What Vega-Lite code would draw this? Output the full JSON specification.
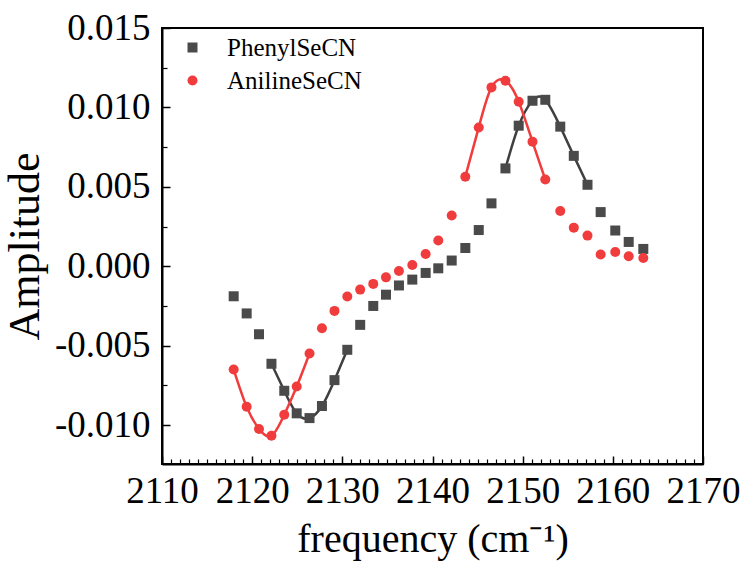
{
  "$schema": "https://vega.github.io/schema/vega-lite/v6.json",
  "autosize": {"type": "none"},
  "padding": {"left": 162, "top": 28, "right": 40, "bottom": 97},
  "width": 541,
  "height": 436,
  "background": "white",
  "config": {
    "view": {"stroke": "black", "strokeWidth": 2},
    "font": "Liberation Serif"
  },
  "data": {"values": [
    {"series": "PhenylSeCN", "freq": 2117.95, "amp": -0.00189, "seg": null},
    {"series": "PhenylSeCN", "freq": 2119.39, "amp": -0.00297, "seg": null},
    {"series": "PhenylSeCN", "freq": 2120.76, "amp": -0.00428, "seg": null},
    {"series": "PhenylSeCN", "freq": 2122.14, "amp": -0.00614, "seg": "dip"},
    {"series": "PhenylSeCN", "freq": 2123.56, "amp": -0.00784, "seg": "dip"},
    {"series": "PhenylSeCN", "freq": 2124.94, "amp": -0.00926, "seg": "dip"},
    {"series": "PhenylSeCN", "freq": 2126.36, "amp": -0.00956, "seg": "dip"},
    {"series": "PhenylSeCN", "freq": 2127.74, "amp": -0.00880, "seg": "dip"},
    {"series": "PhenylSeCN", "freq": 2129.13, "amp": -0.00717, "seg": "dip"},
    {"series": "PhenylSeCN", "freq": 2130.55, "amp": -0.00526, "seg": "dip"},
    {"series": "PhenylSeCN", "freq": 2131.98, "amp": -0.00369, "seg": null},
    {"series": "PhenylSeCN", "freq": 2133.43, "amp": -0.00250, "seg": null},
    {"series": "PhenylSeCN", "freq": 2134.84, "amp": -0.00179, "seg": null},
    {"series": "PhenylSeCN", "freq": 2136.28, "amp": -0.00121, "seg": null},
    {"series": "PhenylSeCN", "freq": 2137.76, "amp": -0.00084, "seg": null},
    {"series": "PhenylSeCN", "freq": 2139.24, "amp": -0.00042, "seg": null},
    {"series": "PhenylSeCN", "freq": 2140.64, "amp": -0.00013, "seg": null},
    {"series": "PhenylSeCN", "freq": 2142.13, "amp": 0.00036, "seg": null},
    {"series": "PhenylSeCN", "freq": 2143.64, "amp": 0.00115, "seg": null},
    {"series": "PhenylSeCN", "freq": 2145.13, "amp": 0.00228, "seg": null},
    {"series": "PhenylSeCN", "freq": 2146.54, "amp": 0.00396, "seg": null},
    {"series": "PhenylSeCN", "freq": 2148.09, "amp": 0.00616, "seg": "peak"},
    {"series": "PhenylSeCN", "freq": 2149.56, "amp": 0.00885, "seg": "peak"},
    {"series": "PhenylSeCN", "freq": 2151.09, "amp": 0.01042, "seg": "peak"},
    {"series": "PhenylSeCN", "freq": 2152.51, "amp": 0.01048, "seg": "peak"},
    {"series": "PhenylSeCN", "freq": 2154.17, "amp": 0.00879, "seg": "peak"},
    {"series": "PhenylSeCN", "freq": 2155.67, "amp": 0.00695, "seg": "peak"},
    {"series": "PhenylSeCN", "freq": 2157.19, "amp": 0.00513, "seg": "peak"},
    {"series": "PhenylSeCN", "freq": 2158.65, "amp": 0.00341, "seg": null},
    {"series": "PhenylSeCN", "freq": 2160.27, "amp": 0.00225, "seg": null},
    {"series": "PhenylSeCN", "freq": 2161.76, "amp": 0.00153, "seg": null},
    {"series": "PhenylSeCN", "freq": 2163.38, "amp": 0.00109, "seg": null},
    {"series": "AnilineSeCN", "freq": 2117.95, "amp": -0.00650, "seg": "dip"},
    {"series": "AnilineSeCN", "freq": 2119.39, "amp": -0.00885, "seg": "dip"},
    {"series": "AnilineSeCN", "freq": 2120.76, "amp": -0.01025, "seg": "dip"},
    {"series": "AnilineSeCN", "freq": 2122.14, "amp": -0.01067, "seg": "dip"},
    {"series": "AnilineSeCN", "freq": 2123.56, "amp": -0.00935, "seg": "dip"},
    {"series": "AnilineSeCN", "freq": 2124.94, "amp": -0.00757, "seg": "dip"},
    {"series": "AnilineSeCN", "freq": 2126.36, "amp": -0.00549, "seg": "dip"},
    {"series": "AnilineSeCN", "freq": 2127.74, "amp": -0.00390, "seg": null},
    {"series": "AnilineSeCN", "freq": 2129.13, "amp": -0.00281, "seg": null},
    {"series": "AnilineSeCN", "freq": 2130.55, "amp": -0.00191, "seg": null},
    {"series": "AnilineSeCN", "freq": 2131.98, "amp": -0.00147, "seg": null},
    {"series": "AnilineSeCN", "freq": 2133.43, "amp": -0.00111, "seg": null},
    {"series": "AnilineSeCN", "freq": 2134.84, "amp": -0.00070, "seg": null},
    {"series": "AnilineSeCN", "freq": 2136.28, "amp": -0.00030, "seg": null},
    {"series": "AnilineSeCN", "freq": 2137.76, "amp": 0.00008, "seg": null},
    {"series": "AnilineSeCN", "freq": 2139.24, "amp": 0.00077, "seg": null},
    {"series": "AnilineSeCN", "freq": 2140.64, "amp": 0.00162, "seg": null},
    {"series": "AnilineSeCN", "freq": 2142.13, "amp": 0.00319, "seg": null},
    {"series": "AnilineSeCN", "freq": 2143.64, "amp": 0.00564, "seg": "peak"},
    {"series": "AnilineSeCN", "freq": 2145.13, "amp": 0.00874, "seg": "peak"},
    {"series": "AnilineSeCN", "freq": 2146.54, "amp": 0.01126, "seg": "peak"},
    {"series": "AnilineSeCN", "freq": 2148.09, "amp": 0.01168, "seg": "peak"},
    {"series": "AnilineSeCN", "freq": 2149.56, "amp": 0.01036, "seg": "peak"},
    {"series": "AnilineSeCN", "freq": 2151.09, "amp": 0.00784, "seg": "peak"},
    {"series": "AnilineSeCN", "freq": 2152.51, "amp": 0.00546, "seg": "peak"},
    {"series": "AnilineSeCN", "freq": 2154.17, "amp": 0.00348, "seg": null},
    {"series": "AnilineSeCN", "freq": 2155.67, "amp": 0.00243, "seg": null},
    {"series": "AnilineSeCN", "freq": 2157.19, "amp": 0.00193, "seg": null},
    {"series": "AnilineSeCN", "freq": 2158.65, "amp": 0.00074, "seg": null},
    {"series": "AnilineSeCN", "freq": 2160.27, "amp": 0.00090, "seg": null},
    {"series": "AnilineSeCN", "freq": 2161.76, "amp": 0.00063, "seg": null},
    {"series": "AnilineSeCN", "freq": 2163.38, "amp": 0.00052, "seg": null}
  ]},
  "resolve": {"axis": {"x": "independent", "y": "independent"}},
  "layer": [
    {
      "transform": [{"filter": "datum.seg != null"}],
      "mark": {"type": "line", "interpolate": "natural", "strokeWidth": 2.5},
      "encoding": {
        "x": {
          "field": "freq", "type": "quantitative",
          "scale": {"domain": [2110, 2170], "nice": false, "zero": false},
          "axis": {
            "orient": "bottom",
            "title": "frequency (cm⁻¹)",
            "titleFont": "Liberation Serif", "titleFontSize": 40, "titleFontWeight": "normal", "titleColor": "black",
            "titlePadding": 10,
            "values": [2110, 2120, 2130, 2140, 2150, 2160, 2170],
            "format": "d",
            "labelFont": "Liberation Serif", "labelFontSize": 37, "labelColor": "black",
            "labelOverlap": false, "labelFlush": false, "labelPadding": 17,
            "tickSize": -8, "tickColor": "black", "tickWidth": 1.5,
            "domainColor": "black", "domainWidth": 2,
            "grid": false
          }
        },
        "y": {
          "field": "amp", "type": "quantitative",
          "scale": {"domain": [-0.01245, 0.015], "nice": false, "zero": false},
          "axis": {
            "orient": "left",
            "title": "Amplitude",
            "titleFont": "Liberation Serif", "titleFontSize": 44, "titleFontWeight": "normal", "titleColor": "black",
            "titlePadding": 7,
            "values": [-0.01, -0.005, 0, 0.005, 0.01, 0.015],
            "labelExpr": "replace(format(datum.value, '.3f'), '−', '-')",
            "labelFont": "Liberation Serif", "labelFontSize": 37, "labelColor": "black",
            "labelOverlap": false, "labelFlush": false, "labelPadding": 20,
            "tickSize": -8, "tickColor": "black", "tickWidth": 1.5,
            "domainColor": "black", "domainWidth": 2,
            "grid": false
          }
        },
        "detail": [{"field": "series"}, {"field": "seg"}],
        "stroke": {"condition": {"test": "datum.series === 'PhenylSeCN'", "value": "#3f3f3f"}, "value": "#F03C3C"}
      }
    },
    {
      "mark": {"type": "point", "filled": true, "opacity": 1, "size": 100, "strokeWidth": 0},
      "encoding": {
        "x": {
          "field": "freq", "type": "quantitative",
          "scale": {"domain": [2110, 2170], "nice": false, "zero": false},
          "axis": {
            "orient": "bottom", "title": null, "labels": false, "domain": false, "grid": false,
            "values": [2111,2112,2113,2114,2115,2116,2117,2118,2119,2121,2122,2123,2124,2125,2126,2127,2128,2129,2131,2132,2133,2134,2135,2136,2137,2138,2139,2141,2142,2143,2144,2145,2146,2147,2148,2149,2151,2152,2153,2154,2155,2156,2157,2158,2159,2161,2162,2163,2164,2165,2166,2167,2168,2169],
            "tickSize": -5, "tickColor": "black", "tickWidth": 1.2
          }
        },
        "y": {
          "field": "amp", "type": "quantitative",
          "scale": {"domain": [-0.01245, 0.015], "nice": false, "zero": false},
          "axis": {
            "orient": "left", "title": null, "labels": false, "domain": false, "grid": false,
            "values": [-0.0075, -0.0025, 0.0025, 0.0075, 0.0125],
            "tickSize": -5, "tickColor": "black", "tickWidth": 1.2
          }
        },
        "color": {
          "field": "series", "type": "nominal",
          "scale": {"domain": ["PhenylSeCN", "AnilineSeCN"], "range": ["#4a4a4a", "#F03C3C"]},
          "legend": {
            "title": null, "orient": "none", "legendX": 18, "legendY": 7,
            "padding": 0, "labelFont": "Liberation Serif", "labelFontSize": 25, "labelColor": "black",
            "labelOffset": 22, "rowPadding": 7, "symbolSize": 100, "symbolStrokeWidth": 0, "symbolOpacity": 1
          }
        },
        "shape": {
          "field": "series", "type": "nominal",
          "scale": {"domain": ["PhenylSeCN", "AnilineSeCN"], "range": ["square", "circle"]}
        }
      }
    }
  ]
}
